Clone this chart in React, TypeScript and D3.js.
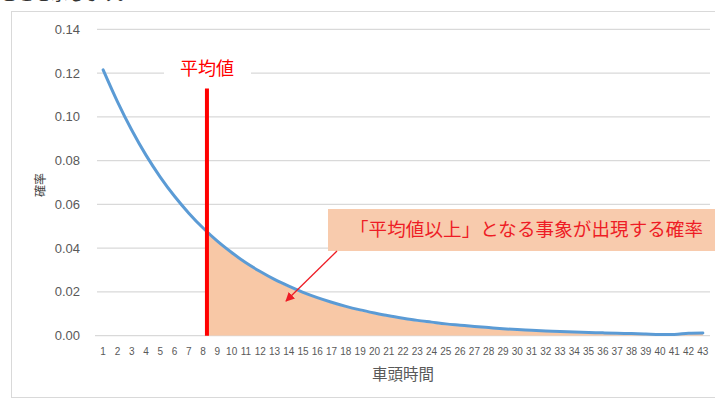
import React, { useRef, useEffect } from 'react';
import * as d3 from 'd3';

// 車頭時間 (categories 1..43)
const headways = [
  1, 2, 3, 4, 5, 6, 7, 8, 9, 10, 11, 12, 13, 14, 15, 16, 17, 18, 19, 20, 21, 22,
  23, 24, 25, 26, 27, 28, 29, 30, 31, 32, 33, 34, 35, 36, 37, 38, 39, 40, 41, 42, 43,
];
// 確率
const probabilities = [
  0.1215, 0.107, 0.094, 0.0825, 0.0725, 0.0637, 0.056, 0.0492, 0.0432, 0.038,
  0.0333, 0.0293, 0.0257, 0.0226, 0.0198, 0.0174, 0.0153, 0.0134, 0.0118, 0.0104,
  0.0091, 0.008, 0.007, 0.0062, 0.0054, 0.0048, 0.0042, 0.0037, 0.0032, 0.0028,
  0.0025, 0.0022, 0.0019, 0.0017, 0.0015, 0.0013, 0.0011, 0.001, 0.0008, 0.0006,
  0.0006, 0.0011, 0.0012,
];
const yTicks = [0, 0.02, 0.04, 0.06, 0.08, 0.1, 0.12, 0.14];
const meanHeadway = 8.27; // position of the 平均値 marker on the category axis
const meanLineTop = 0.113;

const App = () => {
  const svgRef = useRef(null);

  useEffect(() => {
    const svg = d3.select(svgRef.current);
    svg.selectAll('*').remove();

    const width = 715;
    const height = 399;
    const margin = { top: 29.3, right: 5, bottom: 63.3, left: 96 };
    const grey = '#595959';
    const jp = '"Noto Sans CJK JP", "Noto Sans", sans-serif';
    const num = '"Liberation Sans", Arial, sans-serif';

    svg.attr('width', width).attr('height', height);

    const x = d3.scaleBand()
      .domain(headways.map(String))
      .range([margin.left, width - margin.right]);

    const y = d3.scaleLinear()
      .domain([0, 0.14])
      .range([height - margin.bottom, margin.top]);

    const cx = (d) => x(String(d)) + x.bandwidth() / 2;
    // continuous position on the category axis (for the mean marker)
    const pos = (v) => margin.left + (v - 0.5) * x.bandwidth();

    // clipped sentence from the surrounding page (only its bottom edge shows)
    svg.append('text')
      .attr('x', 0)
      .attr('y', -0.5)
      .attr('font-family', jp)
      .attr('font-size', 17)
      .attr('fill', '#333')
      .text('ことを示します。');

    // chart frame
    svg.append('rect')
      .attr('x', 11.5).attr('y', 11.5)
      .attr('width', 720).attr('height', 386)
      .attr('fill', 'white')
      .attr('stroke', '#d9d9d9');

    // gridlines
    svg.append('g')
      .selectAll('line')
      .data(yTicks)
      .join('line')
      .attr('x1', (d) => (d === 0 ? margin.left - 1 : margin.left + 1))
      .attr('x2', width - margin.right)
      .attr('y1', (d) => y(d))
      .attr('y2', (d) => y(d))
      .attr('stroke', '#d9d9d9')
      .attr('stroke-width', 1.2);

    // y tick labels
    svg.append('g')
      .selectAll('text')
      .data(yTicks)
      .join('text')
      .attr('x', 80)
      .attr('y', (d) => y(d))
      .attr('dy', '0.35em')
      .attr('text-anchor', 'end')
      .attr('font-family', num)
      .attr('font-size', 13)
      .attr('fill', grey)
      .text((d) => d.toFixed(2));

    // x tick labels
    svg.append('g')
      .selectAll('text')
      .data(headways)
      .join('text')
      .attr('x', (d) => cx(d))
      .attr('y', 355)
      .attr('text-anchor', 'middle')
      .attr('font-family', num)
      .attr('font-size', 10)
      .attr('fill', grey)
      .text((d) => d);

    // axis titles
    svg.append('text')
      .attr('x', (margin.left + width - margin.right) / 2)
      .attr('y', 380)
      .attr('text-anchor', 'middle')
      .attr('font-family', jp)
      .attr('font-size', 15.5)
      .attr('fill', grey)
      .text('車頭時間');

    svg.append('text')
      .attr('transform', 'translate(45, 185) rotate(-90)')
      .attr('text-anchor', 'middle')
      .attr('font-family', jp)
      .attr('font-size', 12)
      .attr('fill', '#404040')
      .text('確率');

    const pts = headways.map((h, i) => [cx(h), y(probabilities[i])]);

    // shaded area beyond the mean
    svg.append('clipPath')
      .attr('id', 'afterMean')
      .append('rect')
      .attr('x', pos(meanHeadway))
      .attr('y', 0)
      .attr('width', width)
      .attr('height', y(0));

    const area = d3.area()
      .x((d) => d[0])
      .y0(y(0))
      .y1((d) => d[1] + 1)
      .curve(d3.curveMonotoneX);

    svg.append('path')
      .datum(pts)
      .attr('d', area)
      .attr('fill', '#f8c8a6')
      .attr('clip-path', 'url(#afterMean)');

    // probability curve
    const line = d3.line().curve(d3.curveMonotoneX);
    svg.append('path')
      .datum(pts)
      .attr('d', line)
      .attr('fill', 'none')
      .attr('stroke', '#5b9bd5')
      .attr('stroke-width', 3)
      .attr('stroke-linecap', 'round');

    // mean marker
    svg.append('line')
      .attr('x1', pos(meanHeadway))
      .attr('x2', pos(meanHeadway))
      .attr('y1', y(meanLineTop))
      .attr('y2', y(0))
      .attr('stroke', '#ff0000')
      .attr('stroke-width', 4);

    svg.append('rect')
      .attr('x', 164).attr('y', 62)
      .attr('width', 87).attr('height', 20)
      .attr('fill', 'white');

    svg.append('text')
      .attr('x', pos(meanHeadway))
      .attr('y', 75)
      .attr('text-anchor', 'middle')
      .attr('font-family', jp)
      .attr('font-size', 18)
      .attr('fill', '#ff0000')
      .text('平均値');

    // callout
    svg.append('rect')
      .attr('x', 328).attr('y', 209)
      .attr('width', 400).attr('height', 42)
      .attr('fill', '#f8cbad');

    svg.append('text')
      .attr('x', 350)
      .attr('y', 236)
      .attr('font-family', jp)
      .attr('font-size', 18.5)
      .attr('textLength', 353)
      .attr('fill', '#ee1c25')
      .text('「平均値以上」となる事象が出現する確率');

    const defs = svg.append('defs');
    defs.append('marker')
      .attr('id', 'arrow')
      .attr('viewBox', '0 0 10 10')
      .attr('refX', 9).attr('refY', 5)
      .attr('markerWidth', 7).attr('markerHeight', 7)
      .attr('orient', 'auto')
      .append('path')
      .attr('d', 'M0,0 L10,5 L0,10 z')
      .attr('fill', '#ee1c25');

    svg.append('line')
      .attr('x1', 337).attr('y1', 251)
      .attr('x2', 286).attr('y2', 301)
      .attr('stroke', '#ee1c25')
      .attr('stroke-width', 1.3)
      .attr('marker-end', 'url(#arrow)');
  }, []);

  return <svg ref={svgRef} style={{ position: 'absolute', left: 0, top: 0 }}></svg>;
};

export default App;
